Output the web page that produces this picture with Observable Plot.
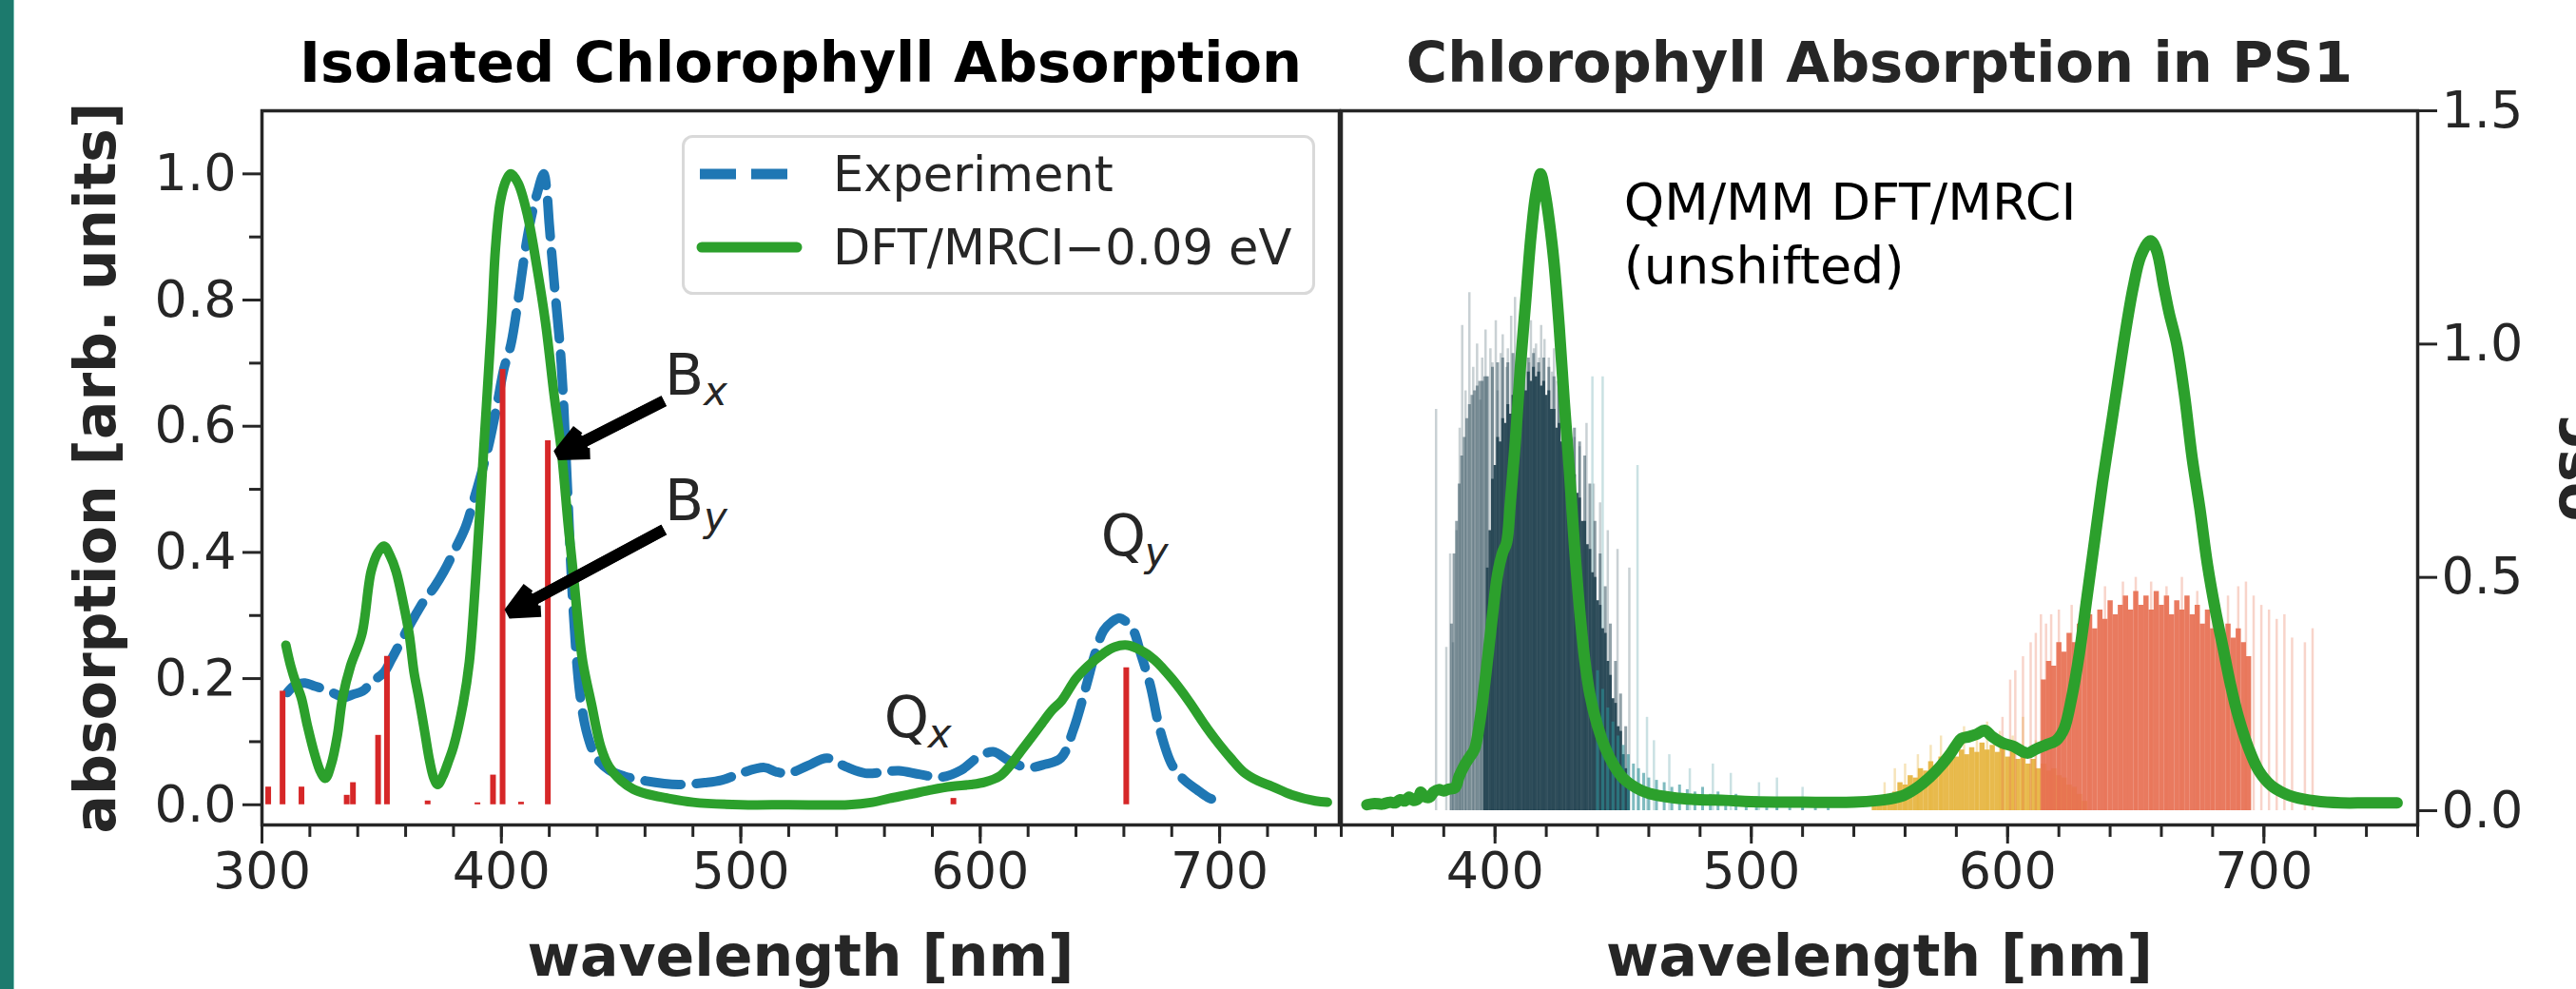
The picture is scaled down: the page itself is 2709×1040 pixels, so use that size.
<!DOCTYPE html>
<html><head><meta charset="utf-8">
<script src="https://cdn.jsdelivr.net/npm/d3@7"></script>
<script src="https://cdn.jsdelivr.net/npm/@observablehq/plot@0.6"></script>
<style>
html,body{margin:0;padding:0;background:#fff;width:2709px;height:1040px;overflow:hidden;font-family:"DejaVu Sans",sans-serif;}
#root{position:relative;width:2709px;height:1040px;overflow:hidden;}
</style></head><body><div id="root"></div>
<script>
// ---------- Left panel: isolated chlorophyll ----------
const titleLeft = "Isolated Chlorophyll Absorption";
const titleRight = "Chlorophyll Absorption in PS1";
const xLabel = "wavelength [nm]";
const yLabel = "absorption [arb. units]";
const yLabelRight = "osc";
const legendLabels = ["Experiment", "DFT/MRCI\u22120.09 eV"];

const xMajorL = [300, 400, 500, 600, 700];
const xMinorL = [300,320,340,360,380,400,420,440,460,480,500,520,540,560,580,600,620,640,660,680,700,720,740];
const yMajorL = [0, 0.2, 0.4, 0.6, 0.8, 1.0];
const yMinorL = [0.1, 0.3, 0.5, 0.7, 0.9];

// Experiment (blue dashed)
const expW = [310.6,314,318,322,327,331,334,338,342,346,351,354,357.5,361,364,368,372,376,380,385,389,392,395,398,401,404,407,410,412.4,415,417.7,419,420,422,425,427.6,430,433,436,439.6,445,451.5,460,474,485,492,500,509.8,515,520,528,536,544,552,560,566,575,584,592,599,605.4,612,619.5,627,633.7,639,644.4,648,651.5,655,658,661,664,667,671,675,680,685,690.5,695,699.4];
const expA = [0.178,0.19,0.193,0.188,0.182,0.175,0.17,0.175,0.18,0.195,0.21,0.23,0.255,0.28,0.30,0.325,0.345,0.37,0.40,0.44,0.49,0.53,0.575,0.63,0.69,0.73,0.80,0.88,0.93,0.97,1.0,0.97,0.92,0.83,0.70,0.50,0.31,0.17,0.11,0.075,0.055,0.045,0.038,0.032,0.035,0.039,0.05,0.059,0.052,0.05,0.062,0.074,0.06,0.05,0.052,0.054,0.048,0.044,0.055,0.075,0.084,0.07,0.059,0.064,0.074,0.12,0.19,0.24,0.276,0.29,0.296,0.29,0.276,0.24,0.19,0.12,0.064,0.04,0.024,0.012,0.005];

// DFT/MRCI -0.09 eV (green)
const calcW = [310,312,314,316.4,319,322,324.5,326.5,329,331.5,333.7,337,341.7,345.6,348.5,351,353.5,356,359,361.5,363.5,365.5,368,370,371.8,373.4,375.5,378,380,384,386.6,389.3,392.6,395.9,397.5,399.5,402,404,407,411,414.5,418.4,422,425,428,430.2,432,434,437.6,441.5,445,450,455,460,468.6,480,500,520,545,555,562,570,580,588,596,602,608,612,616,620,625,630,634,640,645,651.5,656,661.5,667,672.7,680,687,695,700,704.6,710,716,722,730,740,745];
const calcA = [0.253,0.22,0.195,0.17,0.125,0.08,0.052,0.042,0.065,0.11,0.17,0.22,0.27,0.37,0.40,0.41,0.395,0.37,0.32,0.27,0.21,0.17,0.115,0.07,0.042,0.032,0.045,0.07,0.092,0.16,0.226,0.36,0.563,0.765,0.88,0.955,0.99,1.0,0.985,0.933,0.86,0.765,0.65,0.563,0.44,0.36,0.29,0.226,0.16,0.092,0.06,0.038,0.025,0.018,0.011,0.004,0,0,0,0.004,0.01,0.016,0.024,0.029,0.032,0.036,0.045,0.06,0.08,0.10,0.125,0.15,0.165,0.2,0.22,0.24,0.25,0.253,0.245,0.23,0.2,0.165,0.12,0.095,0.074,0.052,0.038,0.029,0.016,0.006,0.004];

// stick spectrum (red)
const stickW = [302.6,308.6,316.5,335.4,338,348.5,352.2,369.2,390,396.5,400.5,408.2,419.4,588.8,661];
const stickF = [0.028,0.18,0.028,0.015,0.035,0.11,0.235,0.006,0.003,0.047,0.69,0.004,0.577,0.01,0.217];

// annotations (data units)
const annLabel = ["B", "B", "Q", "Q"];
const annSub = ["x", "y", "x", "y"];
const annW = [468.2, 468.2, 559.9, 650.4];
const annA = [0.65, 0.451, 0.107, 0.396];
const arrowTailW = [467.9, 467.9];
const arrowTailA = [0.640, 0.436];
const arrowTipW = [423.7, 403.2];
const arrowTipA = [0.555, 0.304];

// ---------- Right panel: PS1 ----------
const xMajorR = [400, 500, 600, 700];
const xMinorR = [340,360,380,400,420,440,460,480,500,520,540,560,580,600,620,640,660,680,700,720,740,760];
const yTicksR = [0, 0.5, 1.0, 1.5];
const noteText = "QM/MM DFT/MRCI\n(unshifted)";
const noteW = [450.3];
const noteA = [0.827];

const ps1W = [350,353,356,359,361,363,365,366.5,368,370,371,372.5,374.5,376,378,380,382,384.4,386,388,390,392,394,396.5,399,401,403,404.5,406,408,410,412,414,416,417.8,419.5,421,423,425,427,429,431,433,435,437,440,443,446,450,455,460,470,480,490,500,520,540,550,555,560,565,570,574,577,580,582,585,588,591,594,598,602,606,608,611,615,619,622,625,628,631,634,637,640,643,646,649,652,655.7,658,661,663,666,669,672,675,678,681,684,687,690,694,698,703,708,712,720,730,740,752];
const ps1A = [0,0.002,0.001,0.004,0.003,0.008,0.006,0.012,0.007,0.01,0.02,0.013,0.012,0.02,0.024,0.022,0.025,0.027,0.045,0.062,0.075,0.088,0.13,0.21,0.30,0.365,0.40,0.415,0.48,0.58,0.70,0.80,0.90,0.97,1.0,0.97,0.93,0.86,0.76,0.64,0.53,0.41,0.31,0.23,0.175,0.125,0.09,0.065,0.042,0.027,0.018,0.011,0.008,0.007,0.005,0.004,0.004,0.007,0.01,0.016,0.028,0.045,0.062,0.077,0.095,0.105,0.108,0.112,0.118,0.108,0.098,0.093,0.084,0.082,0.088,0.095,0.102,0.12,0.17,0.24,0.33,0.42,0.51,0.59,0.67,0.75,0.82,0.87,0.894,0.88,0.82,0.78,0.73,0.65,0.55,0.47,0.38,0.31,0.25,0.19,0.14,0.09,0.054,0.03,0.018,0.012,0.006,0.003,0.003,0.003];

// oscillator strengths (Soret / B band, dark)
const soretFaintW = [377,381,382.5,383.6,385,386.2,387.2,388.5,390,391.5,393,394.2,395,396.3,397,398.2,399,400.3,401,402.2,403,404.4,405,406.3,407.8,409,410,411.2,412,413.3,414,415.2,416,417.2,418,419.3,421,422.2,423,424.3,425,426.2,427,428.3,429,431,433,435.7,438.5,441,444,447.8,452.4];
const soretFaintH = [0.86,0.35,0.55,0.36,0.60,0.82,1.04,0.90,1.11,0.95,1.00,0.88,0.97,1.03,0.93,0.99,0.96,1.05,0.90,0.98,1.02,0.95,0.99,1.06,1.10,0.97,1.00,1.04,0.98,0.96,1.05,0.99,1.00,0.97,1.04,1.01,0.97,0.94,0.99,0.92,0.93,0.96,0.88,0.90,0.85,0.80,0.78,0.83,0.70,0.66,0.60,0.56,0.52];
const soretMidW = [383,384,385,386,387,388,389,390,391,392,393,394,395,396,397,399,401,403,405,407,409,411,413,415,417,419,421,423,425,427,429,431,433,435,437,439,441,443,445,447,449,451];
const soretMidH = [0.40,0.55,0.62,0.70,0.76,0.80,0.84,0.87,0.89,0.90,0.91,0.92,0.92,0.93,0.93,0.95,0.96,0.97,0.96,0.98,0.97,0.98,0.97,0.98,0.96,0.97,0.95,0.93,0.91,0.88,0.85,0.82,0.79,0.76,0.70,0.62,0.55,0.48,0.40,0.32,0.25,0.18];
const soretCoreW = [396,397,398,399,400,401,402,403,404,405,406,407,408,409,410,411,412,413,414,415,416,417,418,419,420,421,422,423,424,425,426,427,428,429,430,431,432,433,434,435,436,437,438,439,440,441,442,443,444,445,446,447,448,449,450,451,452];
const soretCoreH = [0.30,0.52,0.60,0.71,0.74,0.80,0.79,0.84,0.83,0.87,0.85,0.89,0.87,0.90,0.89,0.92,0.90,0.94,0.92,0.95,0.93,0.94,0.91,0.92,0.89,0.90,0.86,0.86,0.82,0.83,0.79,0.79,0.75,0.75,0.72,0.72,0.68,0.67,0.62,0.62,0.57,0.56,0.51,0.50,0.45,0.44,0.39,0.38,0.32,0.29,0.24,0.23,0.18,0.17,0.12,0.09,0.06];
// tail of the B band (teal)
const tealW = [440,442,444,446,448,450,452,454,456,458,460,463,466,469,472,475,478,481,484,487,490,494,498,502,506,510,515,520,525,530];
const tealH = [0.30,0.26,0.22,0.19,0.16,0.14,0.12,0.10,0.09,0.08,0.07,0.065,0.06,0.05,0.055,0.045,0.04,0.05,0.035,0.04,0.03,0.035,0.025,0.03,0.02,0.025,0.015,0.02,0.01,0.015];
const tealFaintW = [438,442,455.6,459.3,462,468,476,485,492,503,510,520];
const tealFaintH = [0.93,0.93,0.74,0.20,0.15,0.12,0.09,0.10,0.08,0.06,0.07,0.05];
// Qx band (gold)
const goldW = [548,550,552,554,556,558,560,562,564,566,568,570,572,574,576,578,580,582,584,586,588,590,592,594,596,598,600,602,604,606,608,610,612,614,616,618,620,622,624,626,628,630];
const goldH = [0.01,0.02,0.025,0.035,0.04,0.06,0.055,0.075,0.07,0.09,0.085,0.105,0.095,0.115,0.105,0.125,0.115,0.13,0.12,0.135,0.125,0.145,0.13,0.14,0.125,0.135,0.115,0.13,0.11,0.12,0.10,0.11,0.09,0.10,0.085,0.09,0.075,0.07,0.055,0.05,0.035,0.02];
const goldFaintW = [552,556,560,565,570,574,579,583,588,592,597,602,606,611];
const goldFaintH = [0.06,0.09,0.10,0.12,0.14,0.16,0.15,0.18,0.17,0.19,0.17,0.16,0.20,0.15];
// Qy band (orange)
const redW = [614,616,618,620,622,624,626,628,630,632,634,636,638,640,642,644,646,648,650,652,654,656,658,660,662,664,666,668,670,672,674,676,678,680,682,684,686,688,690,692,694];
const redH = [0.28,0.32,0.31,0.36,0.34,0.38,0.36,0.40,0.38,0.42,0.39,0.43,0.41,0.45,0.42,0.44,0.46,0.43,0.47,0.44,0.46,0.43,0.47,0.44,0.46,0.42,0.45,0.43,0.46,0.42,0.44,0.40,0.43,0.39,0.42,0.38,0.40,0.37,0.39,0.36,0.33];
const redFaintW = [598,601,603,606,609,611,613,615,617,620,625,632,638,645,650,656,662,668,674,680,686,690,693,696,699,702,705,708,711,716,719];
const redFaintH = [0.20,0.28,0.30,0.33,0.36,0.38,0.42,0.40,0.42,0.43,0.44,0.47,0.48,0.49,0.50,0.49,0.48,0.50,0.47,0.49,0.46,0.48,0.49,0.46,0.44,0.43,0.41,0.42,0.37,0.36,0.39];

// ---------- build ----------
const rows = (xs, ys) => xs.map((x, i) => ({x, y: ys[i]}));
const font = "DejaVu Sans";
const baseStyle = {fontFamily: font, background: "transparent", color: "#262626", overflow: "visible", maxWidth: "none"};
const fmt1 = d3.format(".1f");
const root = document.getElementById("root");
const place = (el, left) => { el.style.position = "absolute"; el.style.left = left + "px"; el.style.top = "0px"; root.appendChild(el); };

// teal strip at the left edge
const strip = document.createElement("div");
strip.style.cssText = "position:absolute;left:0;top:0;width:14px;height:1040px;background:#1c7a6d;border-right:1px solid #79bdb2;";
root.appendChild(strip);

const ann = annLabel.map((t, i) => ({t, s: annSub[i], x: annW[i], y: annA[i]}));
const arrows = arrowTailW.map((w, i) => ({x1: w, y1: arrowTailA[i], x2: arrowTipW[i], y2: arrowTipA[i]}));

const left = Plot.plot({
  width: 1410, height: 1040,
  marginLeft: 275, marginRight: 2, marginTop: 116, marginBottom: 173,
  x: {domain: [300, 750], axis: null},
  y: {domain: [-0.032, 1.1], axis: null},
  style: baseStyle,
  marks: [
    Plot.axisX({ticks: xMinorL, tickSize: 13, tickFormat: () => "", label: null, strokeWidth: 3}),
    Plot.axisX({ticks: xMajorL, tickSize: 20, tickPadding: 8, fontSize: 54, label: null, strokeWidth: 3}),
    Plot.axisY({ticks: yMinorL, tickSize: 13, tickFormat: () => "", label: null, strokeWidth: 3}),
    Plot.axisY({ticks: yMajorL, tickSize: 20, tickPadding: 7, tickFormat: fmt1, fontSize: 54, label: null, strokeWidth: 3}),
    Plot.line(rows(expW, expA), {x: "x", y: "y", stroke: "#1f77b4", strokeWidth: 10, strokeDasharray: "38,16", curve: "catmull-rom"}),
    Plot.line(rows(calcW, calcA), {x: "x", y: "y", stroke: "#2ca02c", strokeWidth: 10, curve: "catmull-rom", strokeLinecap: "round"}),
    Plot.ruleX(rows(stickW, stickF), {x: "x", y1: 0, y2: "y", stroke: "#d62728", strokeWidth: 6}),
    Plot.arrow(arrows, {x1: "x1", y1: "y1", x2: "x2", y2: "y2", stroke: "black", strokeWidth: 12, headAngle: 50, headLength: 4.2, strokeLinejoin: "miter", strokeLinecap: "butt"}),
    Plot.arrow(arrows, {x1: "x1", y1: "y1", x2: "x2", y2: "y2", stroke: "black", strokeWidth: 12, headAngle: 22, headLength: 4.0, strokeLinejoin: "miter", strokeLinecap: "butt"}),
    Plot.text(ann, {x: "x", y: "y", text: "t", fontSize: 60, textAnchor: "start", lineAnchor: "bottom", fill: "#262626"}),
    Plot.text(ann.filter(d => d.t === "B"), {x: "x", y: "y", text: "s", fontSize: 42, fontStyle: "italic", dx: 41, dy: 11, textAnchor: "start", lineAnchor: "bottom", fill: "#262626"}),
    Plot.text(ann.filter(d => d.t === "Q"), {x: "x", y: "y", text: "s", fontSize: 42, fontStyle: "italic", dx: 46, dy: 11, textAnchor: "start", lineAnchor: "bottom", fill: "#262626"}),
    Plot.frame({stroke: "#262626", strokeWidth: 3.5}),
    Plot.text([titleLeft], {text: d => d, frameAnchor: "top", dy: -31, lineAnchor: "bottom", fontWeight: "bold", fontSize: 59, fill: "black"}),
    Plot.text([xLabel], {text: d => d, frameAnchor: "bottom", dy: 158, lineAnchor: "bottom", fontWeight: "bold", fontSize: 60, fill: "#262626"}),
    Plot.text([yLabel], {text: d => d, frameAnchor: "left", dx: -155, rotate: -90, textAnchor: "middle", lineAnchor: "bottom", fontWeight: "bold", fontSize: 60, fill: "#262626"})
  ]
});
place(left, 0);

// right panel: oscillator strengths with right axis
const dark = "#264653";
const rightBars = Plot.plot({
  width: 1409, height: 1040,
  marginLeft: 110, marginRight: 167, marginTop: 116, marginBottom: 173,
  x: {domain: [340, 760], axis: null},
  y: {domain: [-0.0306, 1.5], axis: null},
  style: baseStyle,
  marks: [
    Plot.ruleX(rows(soretFaintW, soretFaintH), {x: "x", y1: 0, y2: "y", stroke: dark, strokeWidth: 2.5, strokeOpacity: 0.25}),
    Plot.ruleX(rows(tealFaintW, tealFaintH), {x: "x", y1: 0, y2: "y", stroke: "#4f9aa3", strokeWidth: 2.5, strokeOpacity: 0.3}),
    Plot.ruleX(rows(soretMidW, soretMidH), {x: "x", y1: 0, y2: "y", stroke: dark, strokeWidth: 3, strokeOpacity: 0.5}),
    Plot.ruleX(rows(soretCoreW, soretCoreH), {x: "x", y1: 0, y2: "y", stroke: dark, strokeWidth: 3, strokeOpacity: 0.95}),
    Plot.ruleX(rows(tealW, tealH), {x: "x", y1: 0, y2: "y", stroke: "#2a8d94", strokeWidth: 3, strokeOpacity: 0.6}),
    Plot.ruleX(rows(goldFaintW, goldFaintH), {x: "x", y1: 0, y2: "y", stroke: "#e5b23a", strokeWidth: 2.5, strokeOpacity: 0.35}),
    Plot.ruleX(rows(goldW, goldH), {x: "x", y1: 0, y2: "y", stroke: "#e5b23a", strokeWidth: 5.5, strokeOpacity: 0.9}),
    Plot.ruleX(rows(redFaintW, redFaintH), {x: "x", y1: 0, y2: "y", stroke: "#e76f51", strokeWidth: 2.5, strokeOpacity: 0.3}),
    Plot.ruleX(rows(redW, redH), {x: "x", y1: 0, y2: "y", stroke: "#e76f51", strokeWidth: 5.5, strokeOpacity: 0.92}),
    Plot.axisY({anchor: "right", ticks: yTicksR, tickSize: 20, tickPadding: 5, tickFormat: fmt1, fontSize: 54, label: null, strokeWidth: 3}),
    Plot.text([yLabelRight], {text: d => d, frameAnchor: "right", dx: 182, rotate: -90, textAnchor: "middle", lineAnchor: "bottom", fontWeight: "bold", fontSize: 60, fill: "#262626"})
  ]
});
place(rightBars, 1300);

// right panel: spectrum on the shared absorption scale
const rightLine = Plot.plot({
  width: 1409, height: 1040,
  marginLeft: 110, marginRight: 167, marginTop: 116, marginBottom: 173,
  x: {domain: [340, 760], axis: null},
  y: {domain: [-0.032, 1.1], axis: null},
  style: baseStyle,
  marks: [
    Plot.axisX({ticks: xMinorR, tickSize: 13, tickFormat: () => "", label: null, strokeWidth: 3}),
    Plot.axisX({ticks: xMajorR, tickSize: 20, tickPadding: 8, fontSize: 54, label: null, strokeWidth: 3}),
    Plot.line(rows(ps1W, ps1A), {x: "x", y: "y", stroke: "#2ca02c", strokeWidth: 12, curve: "catmull-rom", strokeLinecap: "round"}),
    Plot.text(noteW.map((w, i) => ({x: w, y: noteA[i], t: noteText})), {x: "x", y: "y", text: "t", fontSize: 54, lineHeight: 1.24, textAnchor: "start", lineAnchor: "bottom", fill: "black"}),
    Plot.frame({stroke: "#262626", strokeWidth: 3.5}),
    Plot.text([titleRight], {text: d => d, frameAnchor: "top", dy: -31, lineAnchor: "bottom", fontWeight: "bold", fontSize: 59, fill: "#262626"}),
    Plot.text([xLabel], {text: d => d, frameAnchor: "bottom", dy: 158, lineAnchor: "bottom", fontWeight: "bold", fontSize: 60, fill: "#262626"})
  ]
});
place(rightLine, 1300);

// legend for the left panel
const legend = document.createElementNS("http://www.w3.org/2000/svg", "svg");
legend.setAttribute("width", 666); legend.setAttribute("height", 168);
legend.style.cssText = "position:absolute;left:717px;top:142px;overflow:visible;";
legend.innerHTML =
  `<rect x="1.5" y="1.5" width="663" height="165" rx="10" ry="10" fill="#fff" stroke="#d9d9d9" stroke-width="3"/>` +
  `<line x1="19" y1="41" x2="113" y2="41" stroke="#1f77b4" stroke-width="11" stroke-dasharray="38,16"/>` +
  `<line x1="21" y1="118" x2="121" y2="118" stroke="#2ca02c" stroke-width="11" stroke-linecap="round"/>` +
  `<text x="159" y="41" dy="0.36em" font-family="DejaVu Sans" font-size="51" fill="#262626">${legendLabels[0]}</text>` +
  `<text x="159" y="118" dy="0.36em" font-family="DejaVu Sans" font-size="51" fill="#262626">${legendLabels[1]}</text>`;
root.appendChild(legend);
</script></body></html>
